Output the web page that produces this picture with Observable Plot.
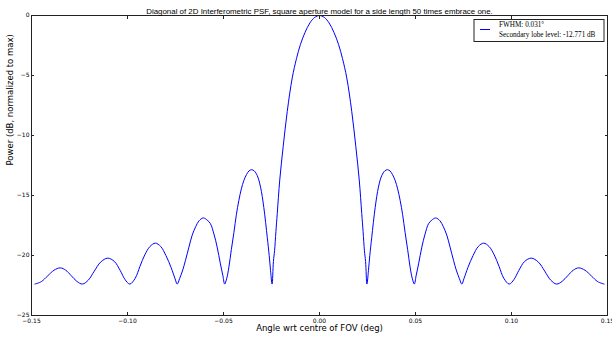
<!DOCTYPE html>
<html><head><meta charset="utf-8">
<script src="https://cdn.jsdelivr.net/npm/d3@7"></script>
<script src="https://cdn.jsdelivr.net/npm/@observablehq/plot@0.6"></script>
<style>body{margin:0;background:#fff} #chart{width:612px;height:340px}</style>
</head><body><div id="chart"></div>
<script>
const angle = [
 -0.1482,-0.1449,-0.1416,-0.1383,-0.1350,-0.1322,-0.1293,-0.1264,-0.1235,
 -0.1204,-0.1173,-0.1140,-0.1103,-0.1068,-0.1038,-0.1013,-0.0988,
 -0.0960,-0.0935,-0.0910,-0.0883,-0.0855,-0.0827,-0.0800,-0.0773,-0.0753,-0.0741,
 -0.0728,-0.0712,-0.0698,-0.0680,-0.0663,-0.0645,-0.0627,-0.0605,-0.0585,-0.0568,-0.0550,-0.0533,-0.0516,-0.0503,-0.0494,
 -0.0483,-0.0472,-0.0459,-0.0446,-0.0433,-0.0420,-0.0407,-0.0394,-0.0380,-0.0367,-0.0354,-0.0340,-0.0324,-0.0307,-0.0290,-0.0272,-0.0262,-0.0255,-0.0247,
 -0.0240,-0.0234,-0.0227,-0.0220,-0.0207,-0.0189,-0.0168,-0.0142,-0.0120,-0.0099,-0.0075,-0.0050,-0.0025,0,
 0.0025,0.0050,0.0075,0.0099,0.0120,0.0142,0.0168,0.0189,0.0207,0.0220,0.0227,0.0234,0.0240,0.0247,
 0.0255,0.0262,0.0272,0.0290,0.0307,0.0324,0.0340,0.0354,0.0367,0.0380,0.0394,0.0407,0.0420,0.0433,0.0446,0.0459,0.0472,0.0483,0.0494,
 0.0503,0.0516,0.0533,0.0550,0.0568,0.0585,0.0605,0.0627,0.0645,0.0663,0.0680,0.0698,0.0712,0.0728,0.0741,
 0.0753,0.0773,0.0800,0.0827,0.0855,0.0883,0.0910,0.0935,0.0960,0.0988,
 0.1013,0.1038,0.1068,0.1103,0.1140,0.1173,0.1204,0.1235,
 0.1264,0.1293,0.1322,0.1350,0.1383,0.1416,0.1449,0.1482
];
const powerDb = [
 -22.38,-22.18,-21.70,-21.23,-21.03,-21.22,-21.68,-22.15,-22.38,
 -22.05,-21.30,-20.55,-20.22,-20.50,-21.25,-22.00,-22.38,
 -21.90,-20.90,-19.95,-19.25,-18.97,-19.25,-20.00,-21.00,-21.90,-22.38,
 -21.90,-21.20,-20.40,-19.30,-18.30,-17.60,-17.10,-16.87,-17.05,-17.35,-18.20,-19.30,-20.70,-21.70,-22.38,
 -21.90,-20.97,-19.50,-18.10,-16.60,-15.40,-14.45,-13.75,-13.25,-12.95,-12.85,-12.95,-13.35,-14.30,-16.00,-18.50,-20.00,-21.25,-22.38,
 -20.50,-19.60,-18.00,-16.50,-13.70,-10.90,-8.00,-5.20,-3.60,-2.40,-1.40,-0.62,-0.16,0,
 -0.16,-0.62,-1.40,-2.40,-3.60,-5.20,-8.00,-10.90,-13.70,-16.50,-18.00,-19.60,-20.50,-22.38,
 -21.25,-20.00,-18.50,-16.00,-14.30,-13.35,-12.95,-12.85,-12.95,-13.25,-13.75,-14.45,-15.40,-16.60,-18.10,-19.50,-20.97,-21.90,-22.38,
 -21.70,-20.70,-19.30,-18.20,-17.35,-17.05,-16.87,-17.10,-17.60,-18.30,-19.30,-20.40,-21.20,-21.90,-22.38,
 -21.90,-21.00,-20.00,-19.25,-18.97,-19.25,-19.95,-20.90,-21.90,-22.38,
 -22.00,-21.25,-20.50,-20.22,-20.55,-21.30,-22.05,-22.38,
 -22.15,-21.68,-21.22,-21.03,-21.23,-21.70,-22.18,-22.38
];
const xTicks = [-0.15,-0.10,-0.05,0,0.05,0.10,0.15];
const yTicks = [0,-5,-10,-15,-20,-25];
const title = "Diagonal of 2D Interferometric PSF, square aperture model for a side length 50 times embrace one.";
const xLabel = "Angle wrt centre of FOV (deg)";
const yLabel = "Power (dB, normalized to max)";
const legendLines = ["FWHM: 0.031\u00b0", "Secondary lobe level: -12.771 dB"];

const data = angle.map((a, i) => ({angle: a, db: powerDb[i]}));
const fmtX = d3.format(".2f");
const fmtY = d3.format("d");
const blank = () => "";

const chart = Plot.plot({
  width: 612, height: 340,
  marginLeft: 31, marginRight: 5, marginTop: 15, marginBottom: 25,
  style: {fontFamily: "'DejaVu Sans', sans-serif", fontSize: "6px", background: "#fff", color: "#000"},
  x: {domain: [-0.15, 0.15], label: null},
  y: {domain: [-25, 0], label: null},
  marks: [
    Plot.axisX({anchor: "bottom", ticks: xTicks, tickFormat: fmtX, tickSize: -3, tickPadding: 6, label: null, stroke: "#222"}),
    Plot.axisX({anchor: "top", ticks: xTicks, tickFormat: blank, tickSize: -3, label: null, stroke: "#222"}),
    Plot.axisY({anchor: "left", ticks: yTicks, tickFormat: fmtY, tickSize: -3, tickPadding: 5, label: null, stroke: "#222"}),
    Plot.axisY({anchor: "right", ticks: yTicks, tickFormat: blank, tickSize: -3, label: null, stroke: "#222"}),
    Plot.line(data, {x: "angle", y: "db", stroke: "#0000ff", strokeWidth: 1, curve: "catmull-rom"}),
    Plot.frame({stroke: "#222", strokeWidth: 1}),
    Plot.text([title], {frameAnchor: "top", dy: -7, fontSize: 7.9, fontFamily: "'Liberation Sans', sans-serif"}),
    Plot.text([xLabel], {frameAnchor: "bottom", dy: 15, fontSize: 8.5}),
    Plot.text([yLabel], {frameAnchor: "left", dx: -21, rotate: -90, fontSize: 8.5})
  ]
});
document.getElementById("chart").append(chart);

// legend box (top-right, inside the frame)
const svg = d3.select(chart);
const lg = svg.append("g").attr("font-family", "'Liberation Serif', serif").attr("font-size", 7.2).attr("text-anchor", "start");
lg.append("rect").attr("x", 474).attr("y", 19.5).attr("width", 130).attr("height", 22)
  .attr("fill", "#fff").attr("stroke", "#222").attr("stroke-width", 1);
lg.append("line").attr("x1", 480).attr("x2", 490).attr("y1", 29.5).attr("y2", 29.5)
  .attr("stroke", "#0000ff").attr("stroke-width", 1);
lg.append("text").attr("x", 499).attr("y", 27).text(legendLines[0]);
lg.append("text").attr("x", 499).attr("y", 36.5).text(legendLines[1]);
</script>
</body></html>
